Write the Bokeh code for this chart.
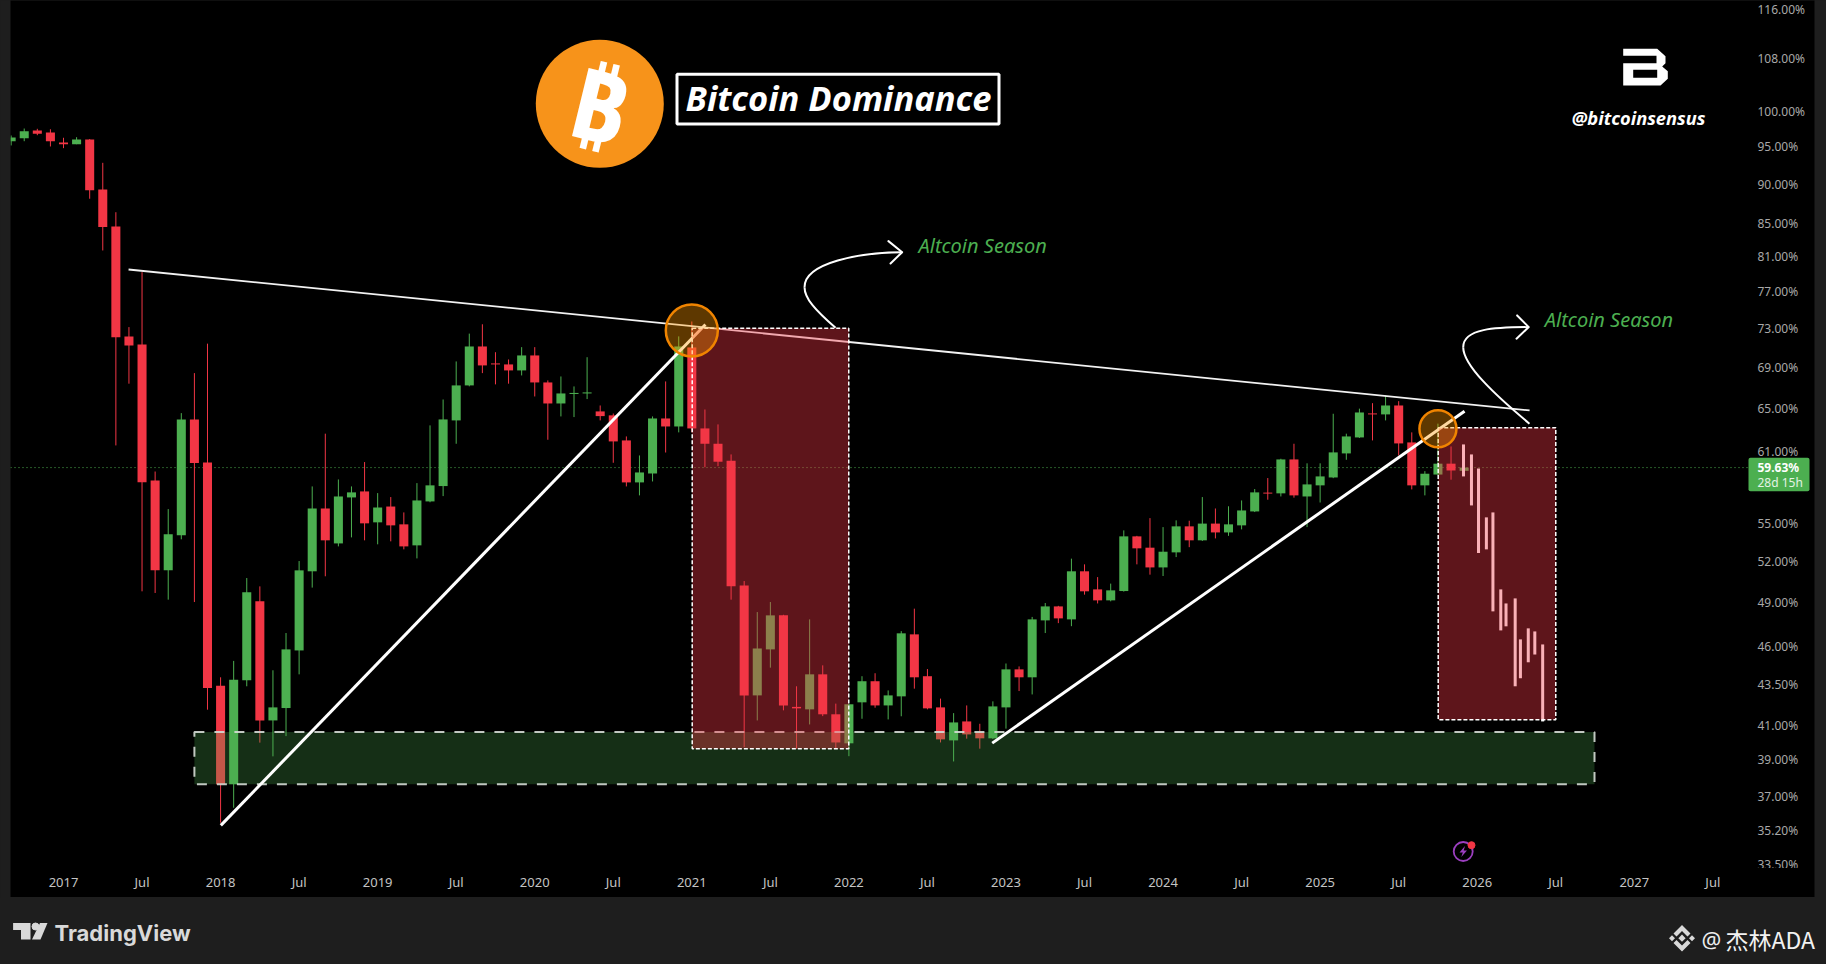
from bokeh.plotting import figure
from bokeh.layouts import column
from bokeh.embed import file_html
from bokeh.resources import INLINE
from bokeh.core.properties import value
from bokeh.models import (Range1d, FixedTicker, PrintfTickFormatter, BoxAnnotation,
                          PolyAnnotation, Label, GlobalInlineStyleSheet)
import math

# ---------- chart data (month index 0 = Jan 2017, % dominance) ----------
months = list(range(-4, 108))
opens = [95.80,96.22,97.30,97.02,95.62,95.38,96.04,89.31,84.65,72.15,71.31,58.53,51.36,54.04,63.95,60.08,
         43.44,37.64,43.78,49.10,41.30,42.05,45.72,51.29,56.19,53.41,57.10,57.60,55.07,56.35,54.91,53.26,
         56.77,58.05,63.86,67.19,71.10,69.37,69.27,68.67,70.18,67.48,65.45,66.36,66.41,64.70,64.33,62.03,
         58.36,59.12,64.04,63.30,71.00,63.12,61.73,60.22,50.25,42.83,45.79,48.11,42.12,41.97,44.16,41.67,
         39.95,42.40,43.72,42.21,42.77,46.80,44.04,42.09,40.12,41.24,40.59,40.24,42.09,44.48,43.97,47.76,
         48.74,47.83,51.29,49.96,49.17,49.84,53.96,53.08,51.58,52.72,54.75,53.65,54.97,54.27,54.83,55.95,
         57.50,57.44,60.34,57.18,58.11,58.78,60.87,62.30,64.51,64.42,65.26,61.85,58.11,59.03,59.97,59.35]
highs = [96.60,97.58,97.54,97.48,96.28,96.36,96.10,92.84,86.41,73.13,79.21,59.29,56.14,64.54,68.40,71.39,
         43.97,45.03,50.79,50.18,44.42,46.89,52.06,58.02,62.64,58.61,58.02,60.11,57.46,57.13,55.87,58.30,
         63.40,65.83,69.57,72.44,73.43,70.51,69.77,71.03,71.03,67.68,68.07,67.09,70.00,65.26,64.50,62.39,
         60.69,64.23,67.58,72.15,73.73,64.88,63.49,60.78,50.57,48.34,49.05,48.15,43.40,47.83,44.74,42.32,
         42.30,44.04,44.23,43.14,47.02,48.58,44.50,42.63,41.74,42.21,41.10,42.46,44.86,44.67,48.00,48.98,
         48.78,52.24,51.81,50.86,50.38,54.43,54.00,55.41,54.69,55.23,55.20,57.13,56.19,56.37,56.85,57.80,
         58.73,60.40,61.73,60.00,60.00,64.48,62.64,64.96,65.48,66.22,65.67,62.76,59.32,63.56,61.49,59.70]
lows = [95.21,95.80,96.64,95.07,94.84,95.38,88.12,81.74,61.58,67.36,49.82,49.70,49.22,53.73,49.05,41.95,
        35.60,36.38,43.40,39.99,39.20,40.37,44.16,50.09,50.92,53.18,53.88,53.65,53.34,53.57,52.95,52.26,
        56.70,57.21,61.73,67.10,68.40,67.29,67.36,68.17,66.12,62.09,64.23,64.17,65.87,63.86,60.05,58.02,
        57.27,58.44,60.95,62.76,62.76,59.66,59.75,49.22,39.73,41.30,44.59,41.91,39.64,41.06,41.56,39.64,
        39.21,41.40,42.07,41.36,41.55,43.25,41.97,40.00,38.91,40.22,39.64,40.20,40.81,43.10,42.89,46.89,
        47.57,47.36,49.58,48.95,49.10,49.80,51.81,51.04,50.94,52.36,53.12,53.60,53.80,54.00,54.51,55.90,
        56.91,57.18,57.08,54.69,56.68,58.72,60.31,62.25,62.03,63.86,60.69,57.77,57.27,58.98,58.59,59.30]
closes = [96.32,97.20,96.84,95.80,95.38,96.04,89.22,84.56,72.07,71.21,58.38,51.36,54.12,63.95,60.02,43.29,
          37.64,43.82,49.75,41.30,42.09,45.79,51.36,56.19,53.65,57.18,57.52,54.99,56.27,54.83,53.18,56.85,
          58.11,63.95,67.19,71.10,69.17,69.27,68.67,70.18,67.48,65.45,66.41,66.46,66.51,64.26,61.94,58.36,
          59.21,64.04,63.30,71.10,63.12,61.73,60.14,50.18,42.83,45.85,48.11,42.21,42.03,44.16,41.67,40.00,
          42.28,43.72,42.21,42.83,46.87,43.97,42.03,40.18,41.18,40.47,40.24,42.15,44.48,43.97,47.83,48.74,
          47.90,51.29,49.82,49.17,49.89,53.96,53.03,51.58,52.77,54.75,53.65,54.97,54.27,54.91,56.03,57.52,
          57.42,60.34,57.27,58.19,58.87,60.96,62.39,64.60,64.42,65.26,61.76,58.11,59.10,59.97,59.38,59.63]

ghost_x = [106.95,107.56,108.1,108.7,109.2,109.8,110.2,110.9,111.3,111.9,112.4,113.0]
ghost_hi = [61.67,60.78,59.55,55.47,55.87,49.96,48.95,49.31,46.46,47.21,47.00,46.12]
ghost_lo = [58.87,56.44,52.67,52.95,48.39,47.07,47.35,43.40,43.91,44.94,45.45,41.24]

res_x, res_y = [4.97, 112.0], [79.51, 64.79]
tr1_x, tr1_y = [12.02, 49.04], [35.46, 73.41]
tr2_x, tr2_y = [70.95, 107.03], [39.96, 64.72]
zone = dict(left=10.0, right=116.96, top=40.61, bottom=37.64)
red1 = dict(left=48.03, right=59.99, top=73.02, bottom=39.64)
red2 = dict(left=105.02, right=114.0, top=63.19, bottom=41.34)
# curved arrows: [start, control, control, end] for each bezier
curves = [
    ([58.98,57.45,56.61,56.61], [73.05,74.92,76.24,77.50]),
    ([56.61,56.61,60.89,64.07], [77.50,80.33,81.51,81.54]),
    ([111.99,109.40,106.93,106.93], [63.56,66.22,69.17,71.03]),
    ([106.93,106.93,109.40,111.94], [71.03,73.00,73.11,73.13]),
]
head1_x, head1_y = [63.02,64.07,63.18], [82.86,81.54,80.21]
head2_x, head2_y = [111.05,111.94,111.0], [74.38,73.13,71.91]

year_labels = {0:"2017",12:"2018",24:"2019",36:"2020",48:"2021",60:"2022",72:"2023",84:"2024",96:"2025",108:"2026",120:"2027"}
jul_ticks = [6,18,30,42,54,66,78,90,102,114,126]
price_ticks = [33.5,35.2,37,39,41,43.5,46,49,52,55,61,65,69,73,77,81,85,90,95,100,108,116]
last_price = 59.63

GREEN, RED, PANEL, BG = "#4CAF50", "#F23645", "#000000", "#1E1E1E"
PX_PER_MONTH, Y_SCALE = 13.09, 688.4

# canvas pixel -> data helpers, used only for the decorative overlay furniture
def cx(px): return (px - 63) / PX_PER_MONTH
def cy(py): return 116 * math.exp(-(py - 9) / Y_SCALE)

p = figure(width=1826, height=897, output_backend="svg", toolbar_location=None,
           y_axis_type="log", y_axis_location="right",
           x_range=Range1d(cx(10), cx(1814)), y_range=Range1d(cy(897), cy(0)),
           min_border_left=10, min_border_right=12, min_border_top=0, min_border_bottom=0,
           background_fill_color=PANEL, border_fill_color=BG, frame_align=False)
p.outline_line_color = None
p.grid.visible = False
p.stylesheets = [GlobalInlineStyleSheet(css="html,body{margin:0;padding:0;background:#1E1E1E;overflow:hidden}")]

p.xaxis.ticker = FixedTicker(ticks=sorted(list(year_labels) + jul_ticks))
p.xaxis.major_label_overrides = {**year_labels, **{m: "Jul" for m in jul_ticks}}
p.yaxis.ticker = FixedTicker(ticks=price_ticks)
p.yaxis.formatter = PrintfTickFormatter(format="%.2f%%")
for ax, col, size in ((p.xaxis, "#C4C4C4", "13px"), (p.yaxis, "#A8A8A8", "12px")):
    ax.axis_line_color = None
    ax.major_tick_line_color = None
    ax.minor_tick_line_color = None
    ax.major_tick_in = 0
    ax.major_tick_out = 0
    ax.major_label_text_color = col
    ax.major_label_text_font = "Noto Sans"
    ax.major_label_text_font_size = size
p.xaxis.major_label_standoff = -25
p.yaxis.major_label_standoff = -57

p.line([cx(10), cx(1748)], [last_price, last_price], line_color=GREEN, line_dash="1 3", line_width=1)

# Bitcoin logo
p.scatter([cx(599.3)], [cy(103.3)], size=128, color="#F7931A", line_color=None)
p.text([cx(599.3)], [cy(103.3)], text=["₿"], text_color="#FFFFFF", text_font=value("Noto Sans"),
       text_font_style="bold", text_font_size="98px", text_align="center", text_baseline="middle",
       angle=-0.24)

# candles
colors = [GREEN if c >= o else RED for o, c in zip(opens, closes)]
p.segment(months, highs, months, lows, color=colors, line_width=1)
p.vbar(x=months, width=0.69, top=[max(o, c) for o, c in zip(opens, closes)],
       bottom=[min(o, c) for o, c in zip(opens, closes)], fill_color=colors, line_color=None)
p.vbar(x=ghost_x, width=0.23, top=ghost_hi, bottom=ghost_lo, fill_color="#FFFFFF", line_color=None)

# green support zone
p.quad(**zone, fill_color=GREEN, fill_alpha=0.27, line_color="#D5DCD5", line_alpha=0.9, line_width=2, line_dash="10 10")

# lines
p.line(res_x, res_y, line_color="#F2F2F2", line_width=1.8)
p.line(tr1_x, tr1_y, line_color="#FFFFFF", line_width=3)
p.line(tr2_x, tr2_y, line_color="#FFFFFF", line_width=3)

# red boxes
for r in (red1, red2):
    p.quad(**r, fill_color=RED, fill_alpha=0.39, line_color="#FFFFFF", line_width=1.5, line_dash="4 2")

# highlighted circles
p.scatter([48.0, 105.0], [72.78, 63.09], size=[52, 37], fill_color="#FF9800", fill_alpha=0.37,
          line_color="#F08400", line_width=2.5)

# arrows
for xs, ys in curves:
    p.bezier(x0=[xs[0]], y0=[ys[0]], cx0=[xs[1]], cy0=[ys[1]], cx1=[xs[2]], cy1=[ys[2]], x1=[xs[3]], y1=[ys[3]],
             line_color="#FFFFFF", line_width=2)
for xs, ys in ((head1_x, head1_y), (head2_x, head2_y)):
    p.line(xs, ys, line_color="#FFFFFF", line_width=2, line_join="round", line_cap="round")

def text(px, py, s, color, size, font="Noto Sans", style="normal", align="left"):
    p.add_layout(Label(x=cx(px), y=cy(py), text=s, text_color=color, text_font=font, text_font_style=style,
                       text_font_size=size, text_align=align, text_baseline="middle"))

text(918, 245, "Altcoin Season", GREEN, "20px", style="italic")
text(1544.3, 319.3, "Altcoin Season", GREEN, "20px", style="italic")

# title box
p.add_layout(BoxAnnotation(left=cx(676.5), right=cx(998.5), top=cy(73.8), bottom=cy(123.5),
                           fill_color=None, line_color="#FFFFFF", line_alpha=1, line_width=3))
text(685, 97.3, "Bitcoin Dominance", "#FFFFFF", "34.5px", style="bold italic")
text(1705, 117, "@bitcoinsensus", "#FFFFFF", "18.3px", style="bold italic", align="right")

def poly(points, color):
    p.add_layout(PolyAnnotation(xs=[cx(a) for a, _ in points], ys=[cy(b) for _, b in points],
                                fill_color=color, fill_alpha=1, line_color=None))

# top right emblem
poly([(1622.7,48.3),(1656.7,48.3),(1665,55.7),(1665,62.7),(1661.7,66),(1667.3,70.7),(1667.3,78.3),(1660,85),
      (1622.7,85),(1622.7,62.7),(1656,62.7),(1656,55.3),(1622.7,55.3)], "#FFFFFF")
poly([(1632.7,69.3),(1656.7,69.3),(1656.7,77.3),(1632.7,77.3)], "#000000")

# lightning badge
p.scatter([cx(1462.7)], [cy(851)], size=19, fill_color=None, line_color="#9C3FC0", line_width=1.8)
p.scatter([cx(1471)], [cy(844.7)], size=7, color=RED)
poly([(1464.5,845.5),(1459,852),(1462.3,852),(1460.8,856.5),(1466.5,850),(1463.2,850)], "#9C3FC0")

# price label
p.add_layout(BoxAnnotation(left=cx(1748), right=cx(1809), top=cy(457.3), bottom=cy(490.7),
                           fill_color=GREEN, fill_alpha=1, line_color=None, border_radius=2))
text(1757, 467, "59.63%", "#FFFFFF", "12px", style="bold")
text(1757, 482, "28d 15h", "#E4F3E5", "12px")
# clips the lowest price label like the original pane edge
p.add_layout(BoxAnnotation(left=cx(1750), right=cx(1812), top=cy(867.5), bottom=cy(873),
                           fill_color=PANEL, fill_alpha=1, line_color=None))

# footer strip, its own small pixel-scaled figure
f = figure(width=1826, height=67, output_backend="svg", toolbar_location=None,
           x_range=Range1d(0, 1826), y_range=Range1d(964, 897), x_axis_type=None, y_axis_type=None,
           min_border=0, background_fill_color=BG, border_fill_color=BG, frame_align=False)
f.outline_line_color = None
f.grid.visible = False
F = "#D9D9D9"
def fpatch(points, color=F):
    f.patch([a for a, _ in points], [b for _, b in points], fill_color=color, line_color=None)
def ftext(px, py, s, color, size, font, style="normal"):
    f.text([px], [py], text=[s], text_color=color, text_font=value(font), text_font_style=style,
           text_font_size=size, text_baseline="middle")

fpatch([(12.6,922.5),(30,922.5),(30,939),(20.5,939),(20.5,929.5),(12.6,929.5)])
fpatch([(39.5,922.5),(47,922.5),(40,939),(31.5,939)])
f.scatter([35], [926], size=7, color=F)
ftext(54, 932, "TradingView", F, "22px", "Inter", "bold")

cxb, cyb = 1681.5, 937.7
fpatch([(cxb,924.5),(cxb+8.5,933),(cxb+5.5,936),(cxb,930.5),(cxb-5.5,936),(cxb-8.5,933)])
fpatch([(cxb,2*cyb-924.5),(cxb+8.5,2*cyb-933),(cxb+5.5,2*cyb-936),(cxb,2*cyb-930.5),(cxb-5.5,2*cyb-936),(cxb-8.5,2*cyb-933)])
for dx, r in ((0, 3.6), (-10, 3), (10, 3)):
    fpatch([(cxb+dx,cyb-r),(cxb+dx+r,cyb),(cxb+dx,cyb+r),(cxb+dx-r,cyb)])
ftext(1701, 938, "@", "#EDEDED", "22px", "Noto Sans")
ftext(1725, 938, "杰林ADA", "#F2F2F2", "23px", "Noto Sans CJK SC")

layout = column(p, f, spacing=0)
open("out.html", "w").write(file_html(layout, INLINE))
